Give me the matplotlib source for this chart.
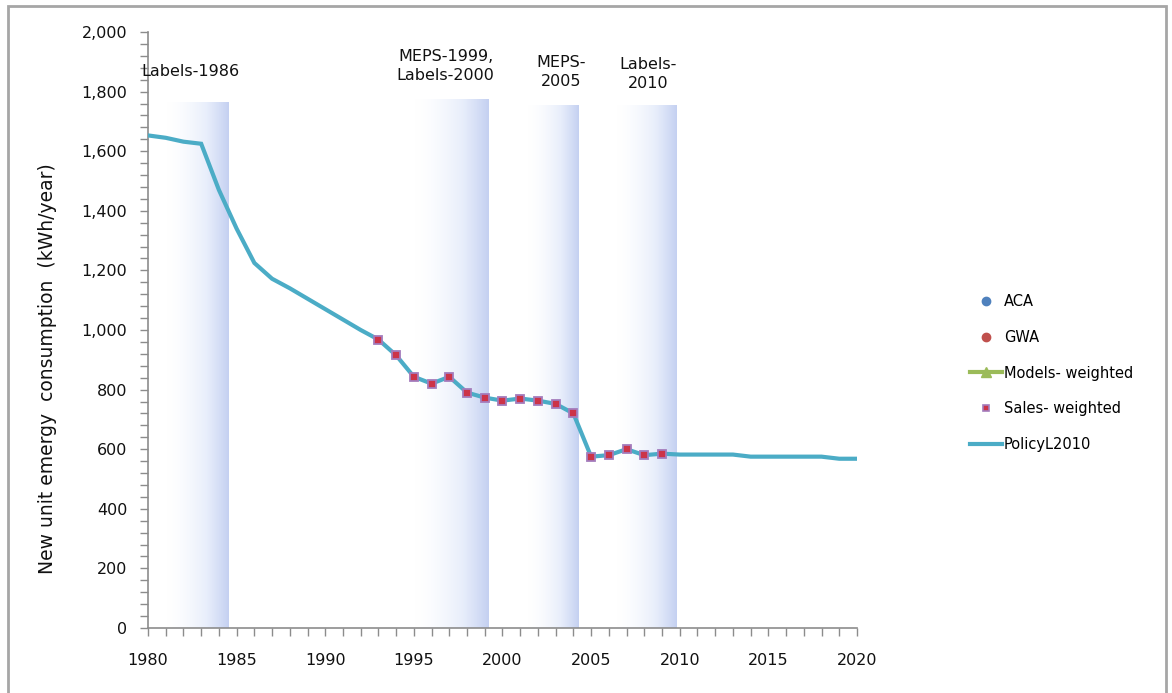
import numpy as np
import matplotlib
matplotlib.use("Agg")
import matplotlib.pyplot as plt
from matplotlib.ticker import MultipleLocator, FuncFormatter
from matplotlib.lines import Line2D
from matplotlib.patches import Rectangle

plt.rcParams['font.family'] = ['DejaVu Sans']

# Policy trajectory (kWh/year)
policy_years = [1980, 1981, 1982, 1983, 1984, 1985, 1986, 1987, 1988, 1989, 1990,
                1991, 1992, 1993, 1994, 1995, 1996, 1997, 1998, 1999, 2000,
                2001, 2002, 2003, 2004, 2005, 2006, 2007, 2008, 2009, 2010,
                2011, 2012, 2013, 2014, 2015, 2016, 2017, 2018, 2019, 2020]
policy_values = [1653, 1645, 1632, 1625, 1470, 1340, 1225, 1172, 1140, 1105, 1070,
                 1035, 1000, 968, 915, 843, 820, 843, 790, 773, 763,
                 770, 763, 752, 720, 575, 580, 600, 580, 585, 582,
                 582, 582, 582, 575, 575, 575, 575, 575, 568, 568]

# Sales-weighted survey points
sales_years = [1993, 1994, 1995, 1996, 1997, 1998, 1999, 2000, 2001, 2002,
               2003, 2004, 2005, 2006, 2007, 2008, 2009]
sales_values = [968, 915, 843, 820, 843, 790, 773, 763, 770, 763,
                752, 720, 575, 580, 600, 580, 585]

# Policy periods (start, end, label)
band_starts = [1981.0, 1995.0, 2001.4, 2006.4]
band_ends = [1984.5, 1999.2, 2004.3, 2009.8]
band_tops = [1765, 1775, 1755, 1755]
band_labels = ["Labels-1986", "MEPS-1999,\nLabels-2000", "MEPS-\n2005", "Labels-\n2010"]
label_x = [1982.4, 1996.8, 2003.3, 2008.2]
label_y = [1866, 1885, 1865, 1860]

fig = plt.figure(figsize=(11.72, 6.93), dpi=100)
ax = fig.add_axes([0.1263, 0.0938, 0.6049, 0.86])

# gradient shading: white on the left, pale blue toward the right edge
grad = np.linspace(0, 1, 256) ** 1.6
cmap = matplotlib.colors.LinearSegmentedColormap.from_list(
    "band", ["#ffffff", "#e8eefb", "#c4d0f1"])
for s, e, t in zip(band_starts, band_ends, band_tops):
    ax.imshow(grad[np.newaxis, :], extent=[s, e, 0, t], aspect='auto',
              cmap=cmap, vmin=0, vmax=1, zorder=1, interpolation='bilinear')

for x, y, txt in zip(label_x, label_y, band_labels):
    ax.text(x, y, txt, ha='center', va='center', fontsize=11.5, color='#111111',
            linespacing=1.35, zorder=5, clip_on=False)

ax.plot(policy_years, policy_values, color='#4bacc6', lw=3, zorder=3,
        solid_joinstyle='miter')
ax.plot(sales_years, sales_values, ls='none', marker='s', ms=6,
        mfc='#cc3448', mec='#a47cbc', mew=1.3, zorder=4)

ax.set_xlim(1980, 2020)
ax.set_ylim(0, 2000)
ax.xaxis.set_major_locator(MultipleLocator(5))
ax.xaxis.set_minor_locator(MultipleLocator(1))
ax.yaxis.set_major_locator(MultipleLocator(200))
ax.yaxis.set_minor_locator(MultipleLocator(40))
ax.yaxis.set_major_formatter(FuncFormatter(lambda v, p: f"{int(v):,}"))

for side in ['top', 'right']:
    ax.spines[side].set_visible(False)
for side in ['left', 'bottom']:
    ax.spines[side].set_color('#8c8c8c')
    ax.spines[side].set_linewidth(1.2)
ax.tick_params(axis='both', which='both', direction='out', color='#8c8c8c',
               length=6, width=1.0, labelsize=11.5, labelcolor='#111111')
ax.tick_params(axis='x', pad=12)
ax.tick_params(axis='y', pad=9)
ax.set_ylabel("New unit emergy  consumption  (kWh/year)", fontsize=13.5,
              color='#111111')
ax.yaxis.set_label_coords(-0.128, 0.435)

handles = [
    Line2D([], [], ls='none', marker='o', ms=6, color='#4f81bd'),
    Line2D([], [], ls='none', marker='o', ms=6, color='#c0504d'),
    Line2D([], [], color='#9bbb59', lw=3, marker='^', ms=7),
    Line2D([], [], ls='none', marker='s', ms=5, mfc='#cc3448', mec='#a47cbc', mew=1.2),
    Line2D([], [], color='#4bacc6', lw=3),
]
names = ["ACA", "GWA", "Models- weighted", "Sales- weighted", "PolicyL2010"]
fig.legend(handles, names, loc='upper left', bbox_to_anchor=(0.823, 0.584),
           frameon=False, fontsize=10.5, labelspacing=1.42, handlelength=2.2,
           handletextpad=0.1, borderaxespad=0)

# outer chart border
fig.add_artist(Rectangle((0.007, -0.01), 0.988, 1.002, transform=fig.transFigure,
                         fill=False, edgecolor='#a6a6a6', lw=2))

fig.savefig("out.png", dpi=100)
